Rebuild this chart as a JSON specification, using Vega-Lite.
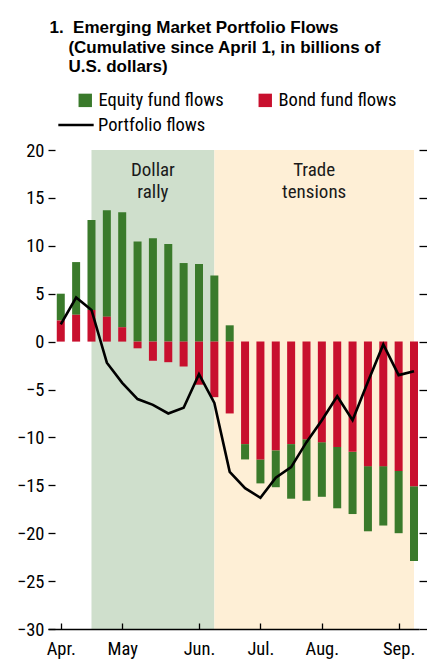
{
  "$schema": "https://vega.github.io/schema/vega-lite/v6.json",
  "width": 371,
  "height": 479,
  "autosize": "none",
  "padding": {"left": 48, "top": 150, "right": 8, "bottom": 31},
  "background": "white",
  "config": {
    "view": {"stroke": null},
    "font": "Roboto Condensed, Liberation Sans, sans-serif"
  },
  "title": {
    "text": ["1.\u00a0\u00a0Emerging Market Portfolio Flows", "\u200b\u00a0\u00a0\u00a0\u00a0(Cumulative since April 1, in billions of", "\u200b\u00a0\u00a0\u00a0\u00a0U.S. dollars)"],
    "anchor": "start",
    "frame": "group",
    "font": "Liberation Sans, Arial, sans-serif",
    "fontSize": 17,
    "fontWeight": "bold",
    "lineHeight": 19.5,
    "color": "#000000",
    "dx": 1.5,
    "offset": 15
  },
  "datasets": {
    "flows": [
      {"week": "2018-04-04", "equity": 2.8, "bond": 2.2, "portfolio": 1.8},
      {"week": "2018-04-11", "equity": 5.5, "bond": 2.8, "portfolio": 4.6},
      {"week": "2018-04-18", "equity": 9.4, "bond": 3.3, "portfolio": 3.3},
      {"week": "2018-04-25", "equity": 11.1, "bond": 2.6, "portfolio": -2.2},
      {"week": "2018-05-02", "equity": 12.0, "bond": 1.5, "portfolio": -4.3},
      {"week": "2018-05-09", "equity": 10.45, "bond": -0.7, "portfolio": -6.0},
      {"week": "2018-05-16", "equity": 10.8, "bond": -2.0, "portfolio": -6.6},
      {"week": "2018-05-23", "equity": 10.2, "bond": -2.15, "portfolio": -7.5},
      {"week": "2018-05-30", "equity": 8.2, "bond": -2.6, "portfolio": -6.9},
      {"week": "2018-06-06", "equity": 8.1, "bond": -4.5, "portfolio": -3.4},
      {"week": "2018-06-13", "equity": 6.9, "bond": -5.8, "portfolio": -6.4},
      {"week": "2018-06-20", "equity": 1.7, "bond": -7.5, "portfolio": -13.6},
      {"week": "2018-06-27", "equity": -1.6, "bond": -10.7, "portfolio": -15.3},
      {"week": "2018-07-04", "equity": -2.5, "bond": -12.3, "portfolio": -16.3},
      {"week": "2018-07-11", "equity": -3.85, "bond": -11.35, "portfolio": -14.2},
      {"week": "2018-07-18", "equity": -5.7, "bond": -10.7, "portfolio": -13.1},
      {"week": "2018-07-25", "equity": -6.4, "bond": -10.2, "portfolio": -10.5},
      {"week": "2018-08-01", "equity": -5.7, "bond": -10.5, "portfolio": -8.2},
      {"week": "2018-08-08", "equity": -6.4, "bond": -11.0, "portfolio": -5.7},
      {"week": "2018-08-15", "equity": -6.5, "bond": -11.5, "portfolio": -8.2},
      {"week": "2018-08-22", "equity": -6.8, "bond": -13.0, "portfolio": -4.2},
      {"week": "2018-08-29", "equity": -6.2, "bond": -13.0, "portfolio": -0.3},
      {"week": "2018-09-05", "equity": -6.5, "bond": -13.5, "portfolio": -3.5},
      {"week": "2018-09-12", "equity": -7.8, "bond": -15.1, "portfolio": -3.1}
    ],
    "periods": [
      {"period": "Dollar rally", "label": "Dollar\nrally", "start": "2018-04-18", "end": "2018-06-13"},
      {"period": "Trade tensions", "label": "Trade\ntensions", "start": "2018-06-13", "end": "2018-09-12"}
    ]
  },
  "resolve": {"axis": {"y": "independent", "x": "independent"}},
  "layer": [
    {
      "data": {"name": "periods"},
      "mark": {"type": "rect"},
      "encoding": {
        "x": {"field": "start", "type": "temporal",
          "scale": {"domain": [{"utc": true, "year": 2018, "month": 3, "date": 31, "hours": 11}, {"utc": true, "year": 2018, "month": 9, "date": 12}]},
          "axis": null},
        "x2": {"field": "end"},
        "y": {"datum": 20, "type": "quantitative",
          "scale": {"domain": [-30, 20], "nice": false},
          "axis": {"orient": "right", "values": [-30, -25, -20, -15, -10, -5, 0, 5, 10, 15, 20], "labels": false, "domain": false, "grid": false, "tickSize": 8, "tickColor": "#000000", "tickWidth": 1.3, "title": null, "zindex": 1}},
        "y2": {"datum": -30},
        "fill": {"field": "period", "type": "nominal",
          "scale": {"domain": ["Dollar rally", "Trade tensions"], "range": ["#CFDFCC", "#FEEFD6"]},
          "legend": null}
      }
    },
    {
      "data": {"name": "periods"},
      "transform": [{"calculate": "(toDate(datum.start) + toDate(datum.end)) / 2", "as": "mid"}],
      "mark": {"type": "text", "lineBreak": "\n", "baseline": "top", "align": "center", "fontSize": 19, "lineHeight": 22, "color": "#1a1a1a", "font": "Roboto Condensed, Liberation Sans, sans-serif"},
      "encoding": {
        "x": {"field": "mid", "type": "temporal", "axis": null},
        "y": {"datum": 18.9, "type": "quantitative", "axis": null},
        "text": {"field": "label"}
      }
    },
    {
      "data": {"name": "flows"},
      "transform": [{"fold": ["equity", "bond"], "as": ["type", "value"]}],
      "mark": {"type": "bar", "width": 8},
      "encoding": {
        "x": {"field": "week", "type": "temporal",
          "axis": {
            "values": [{"utc": true, "year": 2018, "month": 4, "date": 4}, {"utc": true, "year": 2018, "month": 5, "date": 2}, {"utc": true, "year": 2018, "month": 6, "date": 6}, {"utc": true, "year": 2018, "month": 7, "date": 4}, {"utc": true, "year": 2018, "month": 8, "date": 1}, {"utc": true, "year": 2018, "month": 9, "date": 5}],
            "labelExpr": "['Jan.','Feb.','Mar.','Apr.','May','Jun.','Jul.','Aug.','Sep.','Oct.','Nov.','Dec.'][utcmonth(datum.value)]",
            "domain": true, "domainColor": "#000000", "domainWidth": 1.3,
            "tickSize": -6, "tickColor": "#000000", "tickWidth": 1.3,
            "labelPadding": 16, "labelFontSize": 18.5, "labelColor": "#000000",
            "labelFont": "Roboto Condensed, Liberation Sans, sans-serif",
            "labelFlush": false, "labelOverlap": false,
            "grid": false, "title": null, "zindex": 1}},
        "y": {"field": "value", "type": "quantitative", "stack": "zero",
          "scale": {"domain": [-30, 20], "nice": false},
          "axis": {"orient": "left", "values": [-30, -25, -20, -15, -10, -5, 0, 5, 10, 15, 20], "domain": false, "grid": false,
            "tickSize": -7, "tickColor": "#000000", "tickWidth": 1.3,
            "labelPadding": 11, "labelFontSize": 18.5, "labelColor": "#000000",
            "labelFont": "Roboto Condensed, Liberation Sans, sans-serif",
            "labelOverlap": false, "title": null, "zindex": 0}},
        "color": {"field": "type", "type": "nominal",
          "scale": {"domain": ["equity", "bond"], "range": ["#3A7A2B", "#C8102E"]},
          "legend": {"orient": "none", "legendX": 28, "legendY": -59, "direction": "horizontal", "title": null,
            "labelExpr": "datum.value == 'equity' ? 'Equity fund flows' : 'Bond fund flows'",
            "symbolType": "square", "symbolSize": 180, "symbolStrokeWidth": 0, "symbolOpacity": 1,
            "labelFontSize": 18.5, "labelColor": "#000000", "labelOffset": 4, "columnPadding": 32,
            "labelFont": "Roboto Condensed, Liberation Sans, sans-serif"}},
        "order": {"field": "type", "sort": "ascending"}
      }
    },
    {
      "data": {"name": "flows"},
      "mark": {"type": "line", "strokeWidth": 2.6, "strokeJoin": "miter"},
      "encoding": {
        "x": {"field": "week", "type": "temporal", "axis": null},
        "y": {"field": "portfolio", "type": "quantitative", "axis": null},
        "stroke": {"datum": "Portfolio flows", "type": "nominal",
          "scale": {"range": ["#000000"]},
          "legend": {"orient": "none", "legendX": 9, "legendY": -44, "title": null,
            "symbolType": "stroke", "symbolSize": 1250, "symbolStrokeWidth": 2.6, "symbolStrokeColor": "#000000",
            "labelFontSize": 18.5, "labelColor": "#000000", "labelOffset": 3,
            "labelFont": "Roboto Condensed, Liberation Sans, sans-serif"}}
      }
    }
  ]
}
